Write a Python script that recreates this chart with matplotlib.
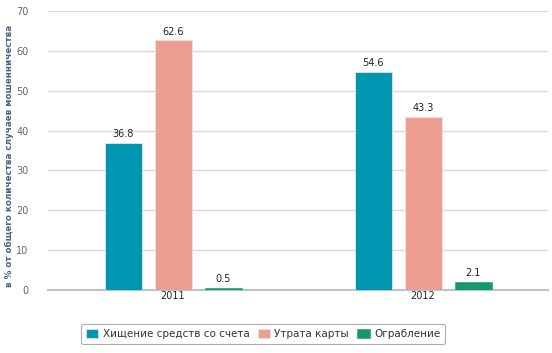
import numpy as np
import matplotlib.pyplot as plt

years = ['2011', '2012']
series = ['Хищение средств со счета', 'Утрата карты', 'Ограбление']
theft = [36.8, 54.6]
card_loss = [62.6, 43.3]
robbery = [0.5, 2.1]
colors = ['#0096B1', '#EC9E93', '#13996C']

fig = plt.figure(figsize=(5.52, 3.53), dpi=100)
ax = fig.add_axes([48 / 552, 1 - 290 / 353, 500 / 552, 279 / 353])

x = np.arange(len(years))
width = 0.148
for i, (vals, name) in enumerate(zip([theft, card_loss, robbery], series)):
    bars = ax.bar(x + (i - 1) * 0.2, vals, width, color=colors[i], label=name,
                  edgecolor='#e4e4e4', linewidth=0.6, zorder=3)
    for b, v in zip(bars, vals):
        ax.text(b.get_x() + b.get_width() / 2, v + 1.0, f'{v}', ha='center', va='bottom',
                fontsize=7, color='#222222')
    if i == 2:
        # tiny bar: keep the green visible
        for b in bars:
            b.set_edgecolor(colors[i])
            b.set_linewidth(0.4)

ax.set_xlim(-0.5, 1.5)
ax.set_ylim(0, 70)
ax.set_yticks(range(0, 71, 10))
ax.set_xticks(x)
ax.set_xticklabels(years)
ax.grid(axis='y', color='#d9d9d9', linewidth=1, zorder=0)
for s in ['top', 'right', 'left']:
    ax.spines[s].set_visible(False)
ax.spines['bottom'].set_color('#b8c4d0')
ax.spines['bottom'].set_linewidth(1.5)
ax.tick_params(axis='y', length=0, labelsize=7, colors='#666666', pad=14)
ax.tick_params(axis='x', length=0, labelsize=7, colors='#222222', pad=1)
ax.set_ylabel('в % от общего количества случаев мошенничества', fontsize=6.3,
              fontweight='bold', color='#4a6282', labelpad=6)
ax.yaxis.set_label_coords(-0.068, 0.48)

leg = fig.legend(loc='center', bbox_to_anchor=(263 / 552, 1 - 334 / 353), ncol=3,
                 fontsize=7.5, frameon=True, handlelength=1.2, handleheight=1.0,
                 handletextpad=0.4, columnspacing=0.8, borderpad=0.5)
leg.get_frame().set_edgecolor('#999999')
leg.get_frame().set_linewidth(0.8)
for t in leg.get_texts():
    t.set_color('#333333')

fig.savefig('out.png', dpi=100)
